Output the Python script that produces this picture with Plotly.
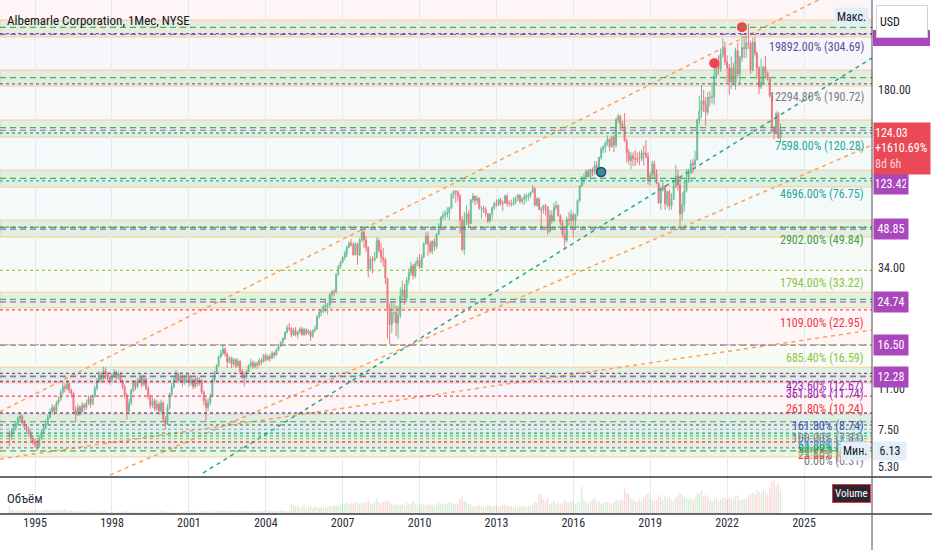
import numpy as np
import pandas as pd
import plotly.graph_objects as go

# monthly candles, Jan 1994 .. Feb 2024
first_open = 7.2
closes = [
    7.0, 7.4, 7.6, 7.9, 8.3, 8.5, 8.0, 7.7, 7.5, 7.2, 6.9, 6.7,
    6.5, 6.4, 6.9, 7.3, 7.6, 7.9, 8.4, 8.8, 9.2, 8.9, 9.6, 9.9,
    10.6, 11.2, 11.0, 11.5, 10.8, 10.5, 9.0, 8.6, 9.2, 8.8, 9.4, 9.2,
    9.6, 10.0, 9.5, 10.2, 11.0, 11.8, 12.5, 12.0, 13.0, 12.6, 12.1, 11.9,
    12.4, 12.8, 12.2, 12.6, 11.8, 11.2, 10.3, 8.9, 9.6, 10.8, 11.6, 11.2,
    11.8, 12.2, 11.4, 12.0, 11.0, 10.2, 9.4, 9.8, 9.1, 9.5, 8.9, 9.6,
    8.2, 7.9, 9.2, 10.4, 11.2, 12.0, 12.6, 11.8, 12.3, 11.6, 12.2, 12.4,
    11.6, 11.9, 11.2, 12.0, 11.5, 11.9, 10.6, 9.8, 9.2, 9.6, 10.2, 11.9,
    12.8, 13.6, 14.8, 15.3, 15.9, 15.2, 14.1, 14.6, 13.8, 14.4, 13.6, 14.2,
    12.9, 12.4, 12.2, 12.9, 13.6, 14.0, 13.5, 13.9, 13.7, 14.3, 14.1, 15.0,
    14.4, 14.8, 14.6, 15.3, 15.0, 15.8, 16.4, 16.9, 17.5, 18.6, 19.4, 19.3,
    18.2, 19.0, 18.2, 18.6, 19.2, 18.2, 19.1, 18.4, 18.8, 17.9, 18.9, 19.2,
    21.6, 22.4, 22.7, 23.6, 24.0, 24.0, 26.5, 27.2, 27.1, 32.0, 34.5, 35.9,
    37.5, 38.8, 41.3, 42.8, 42.3, 38.5, 42.6, 38.4, 44.2, 47.6, 44.2, 41.3,
    33.7, 36.8, 36.5, 37.4, 43.9, 39.9, 37.5, 36.7, 30.8, 23.2, 20.0, 22.3,
    22.4, 20.3, 21.8, 26.1, 27.8, 25.6, 30.3, 32.5, 34.6, 31.6, 35.2, 36.4,
    34.2, 37.6, 42.6, 45.8, 42.6, 39.7, 43.6, 41.5, 46.8, 50.1, 54.7, 55.8,
    56.4, 57.1, 59.8, 67.5, 69.6, 69.2, 66.7, 52.9, 40.4, 53.5, 56.6, 51.5,
    64.3, 66.6, 63.9, 65.2, 59.5, 59.6, 58.7, 56.6, 52.7, 56.3, 59.8, 62.1,
    61.5, 64.3, 62.5, 62.3, 66.7, 62.3, 62.1, 62.0, 62.9, 65.0, 67.1, 63.4,
    64.6, 65.7, 66.4, 67.0, 69.1, 71.5, 61.2, 64.9, 58.9, 58.5, 60.9, 60.1,
    47.9, 55.6, 52.8, 59.9, 60.9, 55.3, 51.8, 46.5, 44.1, 53.5, 53.2, 56.0,
    53.0, 56.0, 63.9, 73.3, 78.5, 79.3, 83.9, 80.0, 85.5, 83.5, 88.6, 86.1,
    95.6, 103.4, 105.6, 109.7, 113.7, 105.5, 115.7, 107.5, 136.3, 140.8, 131.0, 127.9,
    111.6, 100.3, 92.7, 96.9, 94.5, 94.3, 94.3, 94.2, 99.8, 99.2, 96.6, 77.1,
    80.8, 90.0, 82.0, 75.1, 62.5, 70.4, 73.0, 61.8, 69.5, 60.7, 64.9, 73.0,
    80.3, 73.9, 56.4, 61.5, 69.9, 77.2, 82.7, 90.6, 89.3, 93.3, 135.9, 147.5,
    162.8, 157.4, 146.1, 167.9, 167.5, 168.5, 206.0, 236.7, 219.0, 250.5, 267.1, 233.8,
    220.8, 194.2, 221.2, 192.8, 259.9, 209.0, 244.4, 267.8, 264.4, 279.9, 278.6, 216.9,
    281.4, 254.3, 221.0, 185.5, 193.6, 223.1, 212.3, 198.8, 170.0, 126.8, 121.0, 144.5,
    114.8, 124.03,
]
highs = [
    7.4, 7.6, 7.9, 8.1, 8.5, 8.8, 8.6, 8.2, 7.9, 7.7, 7.4, 7.1,
    6.9, 6.8, 7.1, 7.5, 7.9, 8.2, 8.6, 9.1, 9.5, 9.4, 9.8, 10.2,
    10.9, 11.6, 11.5, 11.9, 11.6, 11.0, 10.6, 9.3, 9.5, 9.4, 9.7, 9.6,
    9.9, 10.3, 10.2, 10.4, 11.3, 12.1, 12.9, 12.8, 13.5, 13.4, 12.8, 12.4,
    12.7, 13.2, 13.0, 12.9, 12.8, 12.0, 11.4, 10.5, 10.0, 11.0, 11.9, 11.9,
    12.1, 12.6, 12.4, 12.5, 12.2, 11.3, 10.4, 10.1, 10.0, 9.9, 9.7, 9.9,
    9.8, 8.5, 9.5, 10.6, 11.6, 12.3, 13.1, 12.8, 12.6, 12.5, 12.5, 12.8,
    12.6, 12.3, 12.1, 12.2, 12.3, 12.2, 12.0, 10.8, 10.1, 10.0, 10.5, 12.1,
    13.0, 13.8, 15.0, 15.8, 16.5, 16.2, 15.4, 14.9, 14.8, 14.7, 14.6, 14.6,
    14.3, 13.2, 12.8, 13.1, 13.8, 14.5, 14.3, 14.2, 14.2, 14.6, 14.6, 15.2,
    15.3, 15.1, 15.2, 15.6, 15.5, 16.0, 16.6, 17.1, 17.8, 18.8, 19.9, 20.3,
    19.5, 19.4, 19.5, 18.9, 19.5, 19.6, 19.4, 19.3, 19.2, 19.0, 19.1, 19.8,
    21.8, 22.9, 23.2, 24.0, 25.2, 24.5, 26.8, 27.7, 27.9, 32.4, 34.9, 36.4,
    38.0, 39.9, 41.8, 43.6, 44.6, 43.3, 43.1, 43.1, 45.0, 48.9, 48.6, 45.8,
    41.5, 37.8, 38.0, 39.5, 45.3, 45.0, 42.9, 41.0, 37.4, 31.0, 24.4, 24.7,
    24.6, 23.9, 23.8, 28.4, 30.2, 29.3, 31.2, 33.8, 36.0, 35.3, 36.1, 37.6,
    38.7, 38.5, 43.3, 47.6, 47.5, 43.9, 44.1, 44.9, 47.1, 51.6, 55.1, 57.8,
    58.5, 60.0, 60.3, 68.5, 70.5, 70.5, 70.3, 67.9, 55.3, 57.5, 61.0, 58.2,
    65.0, 68.6, 67.1, 66.9, 65.9, 60.6, 61.1, 60.3, 56.8, 56.5, 60.3, 63.4,
    64.6, 65.0, 65.5, 63.9, 67.4, 68.1, 64.0, 64.4, 66.0, 66.7, 68.0, 67.8,
    66.0, 68.0, 68.4, 68.5, 69.4, 74.0, 72.6, 66.1, 65.7, 60.2, 61.5, 62.0,
    60.6, 58.5, 58.2, 62.4, 63.7, 61.5, 56.3, 53.5, 48.2, 54.9, 57.5, 58.6,
    57.1, 56.6, 64.6, 73.6, 80.3, 82.3, 85.3, 85.4, 86.0, 87.1, 92.3, 92.6,
    96.7, 105.4, 107.2, 111.0, 117.6, 114.4, 117.2, 118.4, 138.6, 144.0, 142.3, 134.6,
    145.0, 114.2, 103.4, 100.8, 100.3, 102.4, 100.3, 101.4, 102.9, 106.9, 112.5, 100.7,
    83.7, 92.7, 92.9, 85.7, 75.7, 72.5, 77.0, 73.8, 70.1, 70.9, 68.4, 76.1,
    89.2, 85.3, 78.3, 68.9, 77.0, 86.0, 86.0, 93.6, 94.5, 102.0, 137.8, 169.9,
    188.7, 180.0, 168.0, 176.3, 177.9, 193.0, 229.0, 242.7, 248.5, 265.4, 291.5, 283.1,
    248.6, 229.5, 246.2, 232.6, 267.6, 280.0, 247.8, 299.0, 297.8, 298.0, 334.55, 285.6,
    293.3, 296.5, 257.8, 226.0, 240.9, 225.6, 247.6, 213.9, 203.5, 172.7, 128.1, 147.5,
    146.6, 131.6,
]
lows = [
    6.4, 6.8, 7.2, 7.4, 7.8, 8.0, 7.8, 7.5, 7.3, 7.0, 6.7, 6.5,
    6.3, 6.13, 6.3, 6.8, 7.2, 7.5, 7.8, 8.3, 8.7, 8.6, 8.8, 9.4,
    9.8, 10.4, 10.6, 10.8, 10.5, 10.1, 8.7, 8.1, 8.5, 8.5, 8.7, 8.9,
    9.0, 9.4, 9.2, 9.4, 10.1, 10.8, 11.6, 11.6, 11.9, 12.0, 11.7, 11.4,
    11.6, 12.2, 11.9, 12.0, 11.6, 10.9, 10.0, 8.2, 8.6, 9.4, 10.6, 10.8,
    11.0, 11.6, 11.1, 11.2, 10.8, 9.9, 9.1, 9.2, 8.9, 8.9, 8.6, 8.7,
    8.0, 7.5, 7.8, 9.0, 10.2, 11.0, 11.8, 11.6, 11.6, 11.2, 11.4, 11.8,
    11.2, 11.3, 10.9, 11.0, 11.2, 11.3, 10.4, 9.4, 8.05, 8.9, 9.4, 10.1,
    11.7, 12.6, 13.5, 14.6, 15.0, 14.8, 13.3, 13.9, 13.3, 13.5, 13.3, 13.4,
    12.6, 12.0, 11.2, 12.0, 12.8, 13.4, 13.2, 13.3, 13.2, 13.5, 13.7, 14.0,
    14.2, 14.2, 14.1, 14.5, 14.6, 14.9, 15.6, 16.2, 16.7, 17.3, 18.4, 18.8,
    17.8, 18.0, 17.9, 17.6, 18.4, 18.0, 18.0, 18.1, 18.2, 17.2, 17.7, 18.6,
    19.0, 21.1, 21.6, 22.3, 22.4, 22.0, 23.4, 25.6, 26.0, 26.8, 31.5, 33.8,
    35.5, 36.5, 37.6, 40.8, 41.4, 38.1, 38.2, 35.0, 37.9, 43.4, 41.0, 39.5,
    31.1, 32.9, 32.3, 36.0, 37.1, 39.3, 35.7, 34.4, 29.2, 17.6, 16.6, 18.5,
    20.4, 18.0, 17.5, 21.2, 25.5, 24.1, 24.8, 29.1, 31.5, 30.5, 30.9, 34.5,
    33.7, 33.8, 37.3, 42.3, 38.1, 38.9, 38.6, 39.9, 40.5, 46.2, 49.0, 53.4,
    53.4, 54.3, 53.2, 59.0, 65.1, 62.6, 63.7, 47.0, 39.7, 38.4, 50.9, 49.6,
    51.3, 62.5, 61.1, 61.9, 58.5, 54.0, 56.9, 54.9, 51.7, 52.0, 53.6, 58.7,
    60.2, 60.7, 60.9, 58.0, 62.2, 60.6, 60.5, 60.4, 60.8, 61.5, 63.5, 62.2,
    61.8, 61.4, 62.9, 63.7, 65.5, 68.8, 60.5, 60.2, 58.5, 48.9, 56.6, 55.7,
    46.4, 47.2, 51.5, 52.3, 58.2, 55.2, 50.8, 45.2, 40.9, 43.2, 50.2, 50.5,
    45.2, 48.8, 55.0, 62.7, 72.4, 74.1, 77.3, 79.2, 77.9, 80.3, 81.4, 84.0,
    85.0, 93.6, 99.4, 100.1, 106.6, 101.5, 106.1, 100.6, 104.9, 132.0, 124.1, 125.3,
    111.0, 91.2, 89.6, 85.5, 88.3, 88.3, 90.5, 88.9, 92.4, 88.6, 94.7, 74.2,
    73.3, 78.6, 78.5, 74.5, 62.0, 58.6, 69.6, 58.6, 59.9, 58.6, 58.6, 64.2,
    71.6, 70.1, 48.9, 53.0, 57.8, 69.0, 75.4, 81.9, 82.5, 86.0, 95.0, 130.3,
    138.7, 146.4, 128.6, 142.0, 154.5, 158.5, 156.6, 200.3, 208.1, 213.4, 243.5, 226.8,
    190.7, 171.9, 181.6, 187.0, 180.1, 200.8, 189.4, 234.3, 242.0, 243.0, 264.0, 209.5,
    214.3, 246.0, 199.9, 173.3, 181.6, 189.5, 203.2, 196.5, 167.4, 120.1, 113.2, 118.3,
    113.3, 110.0,
]
volumes = [
    25, 14, 12, 10, 12, 11, 9, 10, 12, 13, 11, 12,
    12, 10, 11, 9, 10, 14, 12, 11, 10, 13, 11, 12,
    13, 11, 15, 9, 12, 10, 9, 8, 7, 9, 8, 7,
    7, 6, 8, 7, 6, 7, 8, 6, 7, 9, 6, 5,
    6, 7, 5, 6, 7, 6, 8, 9, 7, 6, 5, 6,
    6, 5, 7, 6, 5, 6, 7, 5, 6, 7, 6, 8,
    9, 7, 6, 7, 5, 6, 7, 6, 5, 6, 7, 8,
    7, 6, 6, 8, 6, 5, 7, 8, 9, 7, 6, 7,
    8, 9, 10, 9, 8, 9, 10, 8, 9, 8, 7, 8,
    9, 8, 9, 10, 8, 9, 8, 7, 8, 9, 8, 9,
    10, 9, 10, 11, 9, 8, 9, 10, 11, 9, 8, 9,
    30, 26, 22, 25, 18, 20, 28, 16, 19, 22, 17, 24,
    20, 18, 22, 17, 21, 19, 24, 22, 25, 27, 26, 30,
    32, 30, 34, 28, 33, 31, 36, 33, 29, 35, 32, 34,
    40, 32, 30, 35, 45, 33, 31, 34, 38, 42, 36, 30,
    28, 30, 27, 26, 29, 24, 33, 28, 31, 39, 30, 27,
    29, 31, 28, 24, 30, 27, 29, 25, 28, 33, 30, 32,
    29, 27, 35, 33, 30, 28, 29, 44, 52, 38, 34, 30,
    26, 22, 21, 24, 27, 23, 20, 22, 26, 25, 21, 24,
    25, 22, 24, 27, 29, 24, 23, 22, 20, 22, 21, 24,
    24, 22, 21, 23, 22, 25, 35, 32, 56, 60, 42, 38,
    48, 30, 34, 38, 28, 33, 30, 32, 44, 36, 34, 35,
    40, 30, 34, 36, 80, 40, 35, 32, 38, 42, 46, 36,
    38, 30, 33, 36, 34, 32, 30, 35, 44, 38, 42, 40,
    75, 62, 58, 46, 40, 38, 36, 44, 40, 48, 56, 60,
    44, 38, 40, 42, 56, 48, 40, 52, 46, 50, 42, 40,
    48, 52, 62, 56, 50, 44, 42, 46, 40, 48, 64, 60,
    70, 52, 56, 50, 40, 38, 44, 46, 38, 42, 48, 46,
    44, 48, 46, 42, 52, 54, 40, 44, 42, 46, 50, 58,
    62, 58, 70, 66, 60, 72, 64, 58, 76, 96, 100, 82,
    90, 68,
]

# fibonacci extension levels (percent, price) as labelled on the chart
fib_pcts = [0, 23.6, 38.2, 50, 61.8, 78.6, 100, 161.8, 261.8, 361.8, 423.6,
            685.4, 1109, 1794, 2902, 4696, 7598, 12294.8, 19892, 32186.8]
fib_prices = [6.31, 6.66, 6.88, 7.06, 7.24, 7.49, 7.81, 8.74, 10.24, 11.74, 12.67,
              16.59, 22.95, 33.22, 49.84, 76.75, 120.28, 190.72, 304.69, 489.11]
fib_colors = ["#787b86", "#f23645", "#81c784", "#4caf50", "#089981", "#64b5f6",
              "#787b86", "#3f51b5", "#f23645", "#9c27b0", "#9c27b0", "#8bc34a",
              "#f23645", "#8bc34a", "#43a047", "#26a69a", "#26a69a", "#787b86",
              "#5e4c9a", "#f23645"]

# horizontal support / resistance zones
zone_lows = [5.79, 11.57, 23.4, 45.4, 72.5, 115.9, 186.8, 295.5]
zone_highs = [8.66, 13.4, 27.1, 53.2, 85.1, 135.8, 216.9, 346.6]
green_levels = [6.13, 8.05, 12.36, 25.33, 49.7, 78.7, 126.4, 201.8, 323.6]
purple_levels = [12.28, 16.50, 24.74, 48.85, 123.42, 303.0]
purple_tags = [12.28, 16.50, 24.74, 48.85, 123.42]

# trend channel lines (date, price endpoints)
upper_dates = ["1993-08-19", "2027-08-28"]
upper_prices = [8.85, 538.0]
middle_dates = ["1997-12-04", "2027-08-28"]
middle_prices = [4.89, 107.5]
lower_dates = ["1993-08-19", "2027-08-28"]
lower_prices = [5.68, 19.0]
teal_dates = ["2001-07-22", "2027-08-28"]
teal_prices = [4.98, 242.7]

red_dot_dates = ["2021-07-01", "2022-08-01"]
red_dot_prices = [231.0, 324.0]
blue_dot_dates = ["2017-02-01"]
blue_dot_prices = [83.5]

last_price = 124.03
last_change = "+1610.69%"
countdown = "8d 6h"
price_ticks = [5.3, 7.5, 11, 34, 180]
year_ticks = [1995, 1998, 2001, 2004, 2007, 2010, 2013, 2016, 2019, 2022, 2025]

FONT = "Liberation Sans Narrow, Roboto Condensed, Roboto, sans-serif"
W, H = 932, 550
PW, PH = 872, 514          # plot area (right axis 60px, time axis 36px)
VOL_H = 37                 # volume pane height


def rgba(hex_color, a):
    h = hex_color.lstrip("#")
    r, g, b = int(h[0:2], 16), int(h[2:4], 16), int(h[4:6], 16)
    return f"rgba({r},{g},{b},{a})"


months = pd.date_range("1994-01-01", periods=len(closes), freq="MS")
opens = [first_open] + closes[:-1]
vol_colors = [rgba("#4caf50", 0.22) if c >= o else rgba("#ef5350", 0.22)
              for o, c in zip(opens, closes)]

fig = go.Figure()

fig.add_trace(go.Candlestick(
    x=months, open=opens, high=highs, low=lows, close=closes,
    increasing=dict(line=dict(color="#4cb07e", width=1), fillcolor="#4cb07e"),
    decreasing=dict(line=dict(color="#ee5765", width=1), fillcolor="#ee5765"),
    whiskerwidth=0, opacity=0.8, xaxis="x", yaxis="y", hoverinfo="skip",
))

for dts, prs, col in [(upper_dates, upper_prices, "#ffa057"),
                      (middle_dates, middle_prices, "#ffa057"),
                      (lower_dates, lower_prices, "#ffa057"),
                      (teal_dates, teal_prices, "#2aa58f")]:
    fig.add_trace(go.Scatter(x=dts, y=prs, mode="lines",
                             line=dict(color=col, width=1.5, dash="4px,4px"),
                             xaxis="x", yaxis="y", hoverinfo="skip"))

fig.add_trace(go.Scatter(x=red_dot_dates, y=red_dot_prices, mode="markers",
                         marker=dict(size=10, color="#f0434f"),
                         xaxis="x", yaxis="y", hoverinfo="skip"))
fig.add_trace(go.Scatter(x=blue_dot_dates, y=blue_dot_prices, mode="markers",
                         marker=dict(size=9, color="#3a8f8c",
                                     line=dict(color="#2b3f8c", width=1.5)),
                         xaxis="x", yaxis="y", hoverinfo="skip"))

fig.add_trace(go.Bar(x=months, y=volumes, marker=dict(color=vol_colors, line_width=0),
                     xaxis="x", yaxis="y2", hoverinfo="skip"))

shapes = []
# fib background fills, coloured by the upper level
for i in range(len(fib_prices) - 1):
    shapes.append(dict(type="rect", xref="paper", yref="y", x0=0, x1=1,
                       y0=fib_prices[i], y1=fib_prices[i + 1], layer="below",
                       fillcolor=rgba(fib_colors[i + 1], 0.05), line_width=0))
# support / resistance zones
for lo, hi in zip(zone_lows, zone_highs):
    shapes.append(dict(type="rect", xref="paper", yref="y", x0=0, x1=1,
                       y0=lo, y1=hi, layer="below",
                       fillcolor="rgba(76,175,80,0.13)",
                       line=dict(color="rgba(255,183,110,0.45)", width=1.5)))
for p in purple_levels:
    shapes.append(dict(type="line", xref="paper", yref="y", x0=0, x1=1, y0=p, y1=p,
                       layer="above", line=dict(color="#b455c8", width=1.2, dash="6px,4px")))
for p in green_levels:
    shapes.append(dict(type="line", xref="paper", yref="y", x0=0, x1=1, y0=p, y1=p,
                       layer="above", line=dict(color="#4caf50", width=1.2, dash="6px,4px")))
# fib lines
for p, col in zip(fib_prices, fib_colors):
    shapes.append(dict(type="line", xref="paper", yref="y", x0=0, x1=1, y0=p, y1=p,
                       layer="above", line=dict(color=rgba(col, 0.9), width=1.3, dash="dot")))

# pane separators and right axis border
sep = VOL_H / PH
xr = W / PW
for yy in [sep, 0]:
    shapes.append(dict(type="line", xref="paper", yref="paper", x0=0, x1=xr, y0=yy, y1=yy,
                       line=dict(color="#363a45", width=1.5)))
shapes.append(dict(type="line", xref="paper", yref="paper", x0=1, x1=1, y0=-36 / PH, y1=1,
                   line=dict(color="#4a4e5a", width=1)))
# tag hidden under the currency button
shapes.append(dict(type="rect", xref="paper", yref="paper", x0=873 / PW, x1=930 / PW,
                   y0=(PH - 46) / PH, y1=(PH - 30) / PH, fillcolor="#ab47bc", line_width=0))

ann = []
# fib labels
for pct, p, col in zip(fib_pcts, fib_prices, fib_colors):
    ann.append(dict(xref="paper", yref="y", x=866 / PW, y=np.log10(p), xanchor="right",
                    yanchor="middle", yshift=-13, showarrow=False,
                    text=f"{pct:.2f}% ({p:.2f})", font=dict(family=FONT, size=12, color=col)))

ann.append(dict(xref="paper", yref="paper", x=5 / PW, y=(PH - 21) / PH, xanchor="left",
                yanchor="middle", showarrow=False, text="Albemarle Corporation, 1Мес, NYSE",
                font=dict(family=FONT, size=13, color="#131722")))
ann.append(dict(xref="paper", yref="paper", x=5 / PW, y=(PH - 498) / PH, xanchor="left",
                yanchor="middle", showarrow=False, text="Объём",
                font=dict(family=FONT, size=13, color="#2a2e39")))

# purple price tags
for p in purple_tags:
    shift = -54 if p == 123.42 else 0
    ann.append(dict(xref="paper", yref="y", x=1, y=np.log10(p), xanchor="left", xshift=1,
                    yanchor="middle", yshift=shift, showarrow=False, text=f"{p:.2f}",
                    bgcolor="#ab47bc", width=30, height=16, borderpad=2,
                    font=dict(family=FONT, size=12, color="white")))

# last price tag
ann.append(dict(xref="paper", yref="y", x=1, y=np.log10(last_price), xanchor="left", xshift=1,
                yanchor="top", yshift=8, showarrow=False, align="left",
                text=f"{last_price:.2f}<br>{last_change}<br><span style='color:#fcd2d6'>{countdown}</span>",
                bgcolor="#ea4a57", width=54, height=49, borderpad=1,
                font=dict(family=FONT, size=12, color="white")))

# max / min markers
max_price = max(highs)
min_price = min(lows)
ann.append(dict(xref="paper", yref="y", x=869 / PW, y=np.log10(max_price), xanchor="right",
                yanchor="middle", yshift=7, showarrow=False, text="Макс.",
                bgcolor="#e3eef8", borderpad=2,
                font=dict(family=FONT, size=12, color="#131722")))
ann.append(dict(xref="paper", yref="y", x=870 / PW, y=np.log10(min_price), xanchor="right",
                yanchor="middle", showarrow=False, text="Мин.",
                bgcolor="#e3eef8", borderpad=2,
                font=dict(family=FONT, size=12, color="#131722")))
ann.append(dict(xref="paper", yref="y", x=1, y=np.log10(min_price), xanchor="left", xshift=1,
                yanchor="middle", showarrow=False, text=f"{min_price:.2f}",
                bgcolor="#e3eef8", width=28, borderpad=2,
                font=dict(family=FONT, size=12, color="#131722")))

# currency button
ann.append(dict(xref="paper", yref="paper", x=876 / PW, y=(PH - 5) / PH, xanchor="left",
                yanchor="top", showarrow=False, text="USD", align="left",
                bgcolor="white", bordercolor="#d1d4dc", borderwidth=1, width=44, height=25,
                borderpad=3, font=dict(family=FONT, size=12, color="#131722")))

# volume legend tag
ann.append(dict(xref="paper", yref="paper", x=871 / PW, y=(PH - 493) / PH, xanchor="right",
                yanchor="middle", showarrow=False, text="Volume",
                bgcolor="#2e2430", bordercolor="#e53950", borderwidth=1, borderpad=2,
                font=dict(family=FONT, size=11, color="white")))

fig.update_layout(
    width=W, height=H,
    margin=dict(l=0, r=W - PW, t=0, b=H - PH, autoexpand=False),
    paper_bgcolor="white", plot_bgcolor="white",
    showlegend=False, hovermode=False, bargap=0.3,
    font=dict(family=FONT, size=12, color="#131722"),
    xaxis=dict(type="date", range=["1993-08-19", "2027-08-28"], anchor="y2",
               rangeslider=dict(visible=False), automargin=False,
               tickvals=[f"{y}-01-01" for y in year_ticks], ticktext=[str(y) for y in year_ticks],
               showgrid=True, gridcolor="#e3edf1", gridwidth=1, zeroline=False,
               ticks="", tickfont=dict(family=FONT, size=12, color="#2a2e39")),
    yaxis=dict(type="log", range=[0.6812, 2.621], domain=[sep, 1], side="right", anchor="x",
               tickvals=price_ticks, ticktext=[f"{v:.2f}" for v in price_ticks],
               showgrid=False, zeroline=False, ticks="", ticklabelstandoff=5, automargin=False,
               tickfont=dict(family=FONT, size=12, color="#2a2e39")),
    yaxis2=dict(range=[0, 108], domain=[0, sep], side="right", anchor="x", automargin=False,
                showticklabels=False, showgrid=False, zeroline=False),
    shapes=shapes, annotations=ann,
)

# the page body has a default margin; remove it so the figure sits at the window corner
fig.write_html("out.html", config={"displayModeBar": False},
               post_script="document.body.style.margin='0';")
